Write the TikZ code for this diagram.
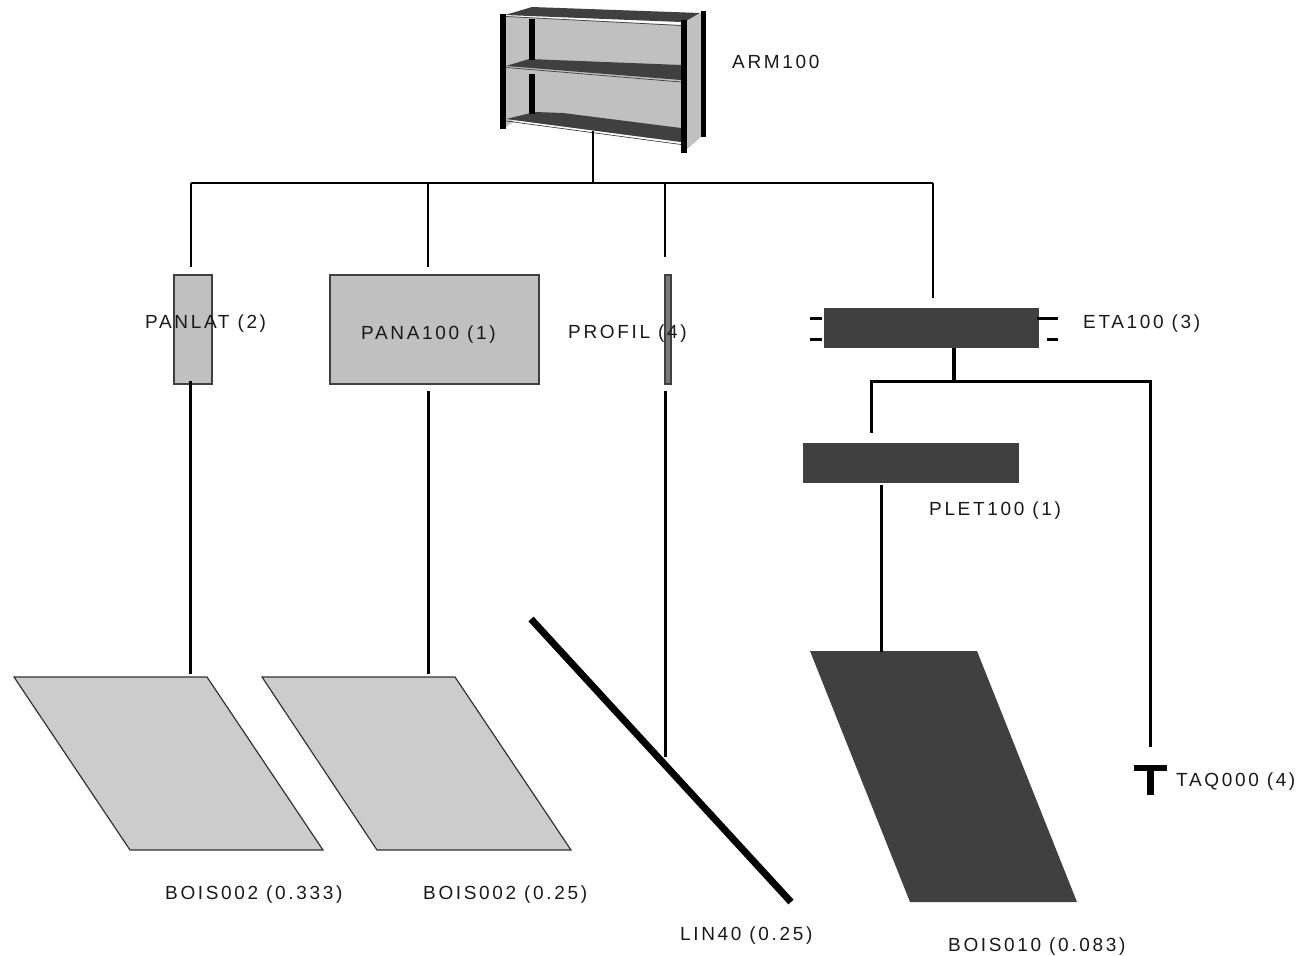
\documentclass[tikz,border=0pt]{standalone}
\usepackage{fontspec}
\setmainfont[LetterSpace=14]{Liberation Sans}
\definecolor{darkc}{HTML}{404040}
\definecolor{midc}{HTML}{C0C0C0}
\definecolor{parc}{HTML}{CCCCCC}
\tikzset{
 lbl/.style={anchor=base west,inner sep=0pt,font=\fontsize{19}{22}\selectfont,text=black!90},
 thin line/.style={draw=black,line width=1.3pt},
 thick line/.style={draw=black,line width=3pt},
 greybox/.style={draw=darkc,line width=2pt,fill=midc,inner sep=0pt,outer sep=0pt,anchor=north west},
 darkbox/.style={fill=darkc,inner sep=0pt,outer sep=0pt,anchor=north west},
 plate/.style={draw=black!80,line width=1.2pt},
 board/.style={fill=darkc},
 post/.style={fill=black},
}
\begin{document}
\begin{tikzpicture}[x=1pt,y=-1pt]
\useasboundingbox (0,0) rectangle (1299,956);
% cabinet
\fill[midc] (506,16) -- (681,25) -- (681,142) -- (506,119) -- cycle;
\fill[midc] (686,21) -- (701,13) -- (701,137) -- (686,150) -- cycle;
\fill[midc] (506,119) -- (515,121) -- (506,127) -- cycle;
\fill[board] (505,15) -- (532,7) -- (700,13) -- (686,21) -- (681,22) -- cycle;
\fill[board] (506,66) -- (529,59) -- (681,65) -- (681,80) -- cycle;
\fill[board] (506,119) -- (535,112) -- (563,113) -- (681,128) -- (681,142) -- cycle;
\draw[darkc,line width=.7pt] (506,16.5) -- (681,25.5);
\draw[darkc,line width=.7pt] (506,67.5) -- (681,82);
\draw[darkc,line width=.7pt] (506,121) -- (681,144.5);
\fill[post] (529,19) rectangle (535,60);
\fill[post] (529,74) rectangle (535,114);
\fill[post] (500,14) rectangle (506,129);
\fill[post] (681,20) rectangle (687,153);
\fill[post] (701,11) rectangle (705.5,137);
\coordinate (cab) at (593,131);
\coordinate (bus) at (593,183);
\coordinate (busl) at (191,183);
\coordinate (busr) at (933,183);
% boxes
\node[greybox,minimum width=38pt,minimum height=109pt] (panlat) at (174,275) {};
\node[greybox,minimum width=208.5pt,minimum height=109pt] (pana) at (330,275) {};
\node[fill=darkc!70,draw=darkc,line width=2pt,inner sep=0pt,outer sep=0pt,minimum width=6pt,minimum height=109pt,anchor=north west] (profil) at (665,275) {};
\node[darkbox,minimum width=215pt,minimum height=40pt] (eta) at (824,308) {};
\node[darkbox,minimum width=216pt,minimum height=40pt] (plet) at (803,443) {};
% parallelograms
\path[fill=parc,plate] (14,677) coordinate (p1) -- (207,677) -- (323,850) -- (130,850) -- cycle;
\path[fill=parc,plate] (262,677) coordinate (p2) -- (455,677) -- (571,850) -- (377,850) -- cycle;
\path[fill=darkc] (810,651) coordinate (p3) -- (977,651) -- (1077,902) -- (910,902) -- cycle;
% connectors
\draw[thin line] (cab) -- (bus);
\draw[thin line] (busl) -- (busr);
\coordinate (a1) at (191,267); \coordinate (a1t) at (191,183);
\coordinate (a2) at (428,267); \coordinate (a2t) at (428,183);
\coordinate (a3) at (665,257); \coordinate (a3t) at (665,183);
\coordinate (a4) at (933,298);
\draw[thin line] (a1t) -- (a1);
\draw[thin line] (a2t) -- (a2);
\draw[thin line] (a3t) -- (a3);
\draw[thin line] (busr) -- (a4);
\coordinate (b1t) at (190.5,381); \coordinate (b1b) at (190.5,674);
\coordinate (b2t) at (428,391); \coordinate (b2b) at (428,674);
\coordinate (b3t) at (665,391); \coordinate (b3b) at (665,757);
\draw[thick line] (b1t) -- (b1b);
\draw[thick line] (b2t) -- (b2b);
\draw[thick line] (b3t) -- (b3b);
% shelf connectors
\coordinate (e0) at (954,348); \coordinate (e1) at (954,381);
\coordinate (el) at (871,381); \coordinate (er) at (1150,381);
\coordinate (el2) at (871,433); \coordinate (er2) at (1150,747);
\draw[draw=black,line width=4pt] (e0) -- (e1);
\draw[thick line,line join=miter] (el2) -- (el) -- (er) -- (er2);
\coordinate (f0) at (881,485); \coordinate (f1) at (881,652);
\draw[thick line] (f0) -- (f1);
% pegs
\draw[draw=black,line width=3pt] (810,318) -- (822,318);
\draw[draw=black,line width=3pt] (810,339) -- (822,339);
\draw[draw=black,line width=3pt] (1037,318) -- (1058,318);
\draw[draw=black,line width=3pt] (1047,339) -- (1058,339);
% diagonal
\coordinate (l0) at (531,619); \coordinate (l1) at (791,902);
\draw[draw=black,line width=7pt] (l0) -- (l1);
% T
\fill[post] (1134,765) rectangle (1167,771);
\fill[post] (1147,765) rectangle (1154,795);
% labels
\node[lbl] (tarm) at (732,68) {ARM100};
\node[lbl] (tpanlat) at (145,328) {PANLAT (2)};
\node[lbl] (tpana) at (361,339) {PANA100 (1)};
\node[lbl] (tprofil) at (568,338) {PROFIL (4)};
\node[lbl] (teta) at (1083,328) {ETA100 (3)};
\node[lbl] (tplet) at (929,515) {PLET100 (1)};
\node[lbl] (ttaq) at (1176,786) {TAQ000 (4)};
\node[lbl] (tb1) at (165,899) {BOIS002 (0.333)};
\node[lbl] (tb2) at (423,899) {BOIS002 (0.25)};
\node[lbl] (tlin) at (680,940) {LIN40 (0.25)};
\node[lbl] (tb3) at (948,951) {BOIS010 (0.083)};
\end{tikzpicture}
\end{document}
